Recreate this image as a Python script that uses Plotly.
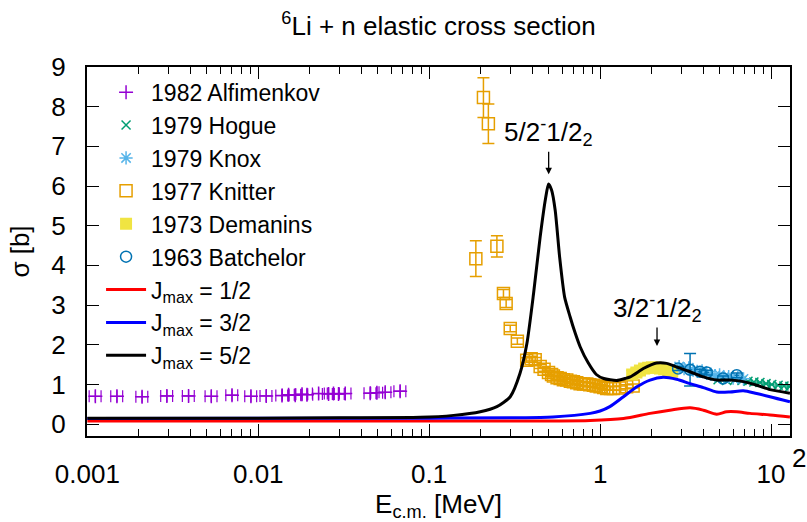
import plotly.graph_objects as go

# ---------------- data ----------------
alf_E = [0.001114, 0.00149, 0.00209, 0.00292, 0.00391, 0.00531, 0.00702, 0.00906,
         0.01113, 0.01377, 0.01504, 0.01645, 0.01803, 0.01928, 0.02254, 0.02578,
         0.02755, 0.02949, 0.03228, 0.04519, 0.04943, 0.0553, 0.0676]
alf_s = [0.70, 0.70, 0.69, 0.71, 0.71, 0.70, 0.73, 0.70, 0.71, 0.72, 0.74, 0.73,
         0.75, 0.74, 0.77, 0.76, 0.77, 0.76, 0.77, 0.78, 0.79, 0.80, 0.83]

hog_E = [4.9, 5.5, 6.15, 6.76, 7.33, 7.94, 8.61, 9.35, 10.1, 11.0, 11.9, 12.9]
hog_s = [1.12, 1.10, 1.12, 1.10, 1.08, 1.06, 1.05, 1.02, 1.00, 0.98, 0.96, 0.95]

knox_E = [2.9, 3.1, 3.3, 3.5, 3.7, 3.95, 4.2, 4.45, 4.7, 5.0, 5.3, 5.65, 6.0, 6.4, 6.9]
knox_s = [1.45, 1.40, 1.42, 1.36, 1.33, 1.34, 1.28, 1.26, 1.22, 1.24, 1.18, 1.20, 1.16, 1.17, 1.14]

kni_E = [0.1875, 0.2077, 0.222, 0.249, 0.272, 0.282, 0.298, 0.328, 0.372, 0.395,
         0.417, 0.446, 0.47, 0.499, 0.52, 0.533, 0.56, 0.584, 0.61, 0.638, 0.67,
         0.698, 0.73, 0.764, 0.80, 0.836, 0.87, 0.914, 0.95, 1.0, 1.05, 1.094,
         1.15, 1.196, 1.3, 1.43, 1.56]
kni_s = [4.17, 8.23, 7.57, 4.48, 3.29, 3.04, 2.41, 2.09, 1.61, 1.65, 1.62, 1.45,
         1.38, 1.30, 1.25, 1.21, 1.17, 1.15, 1.12, 1.11, 1.08, 1.07, 1.04, 1.02,
         1.01, 1.01, 0.99, 0.98, 0.96, 0.94, 0.92, 0.90, 0.90, 0.90, 0.91, 0.94, 0.96]
kni_err = [0.45, 0.5, 0.5, 0.27, 0.1, 0.1, 0.08, 0.08, 0.06, 0.06, 0.06, 0.05,
           0.05, 0.05, 0.05, 0.05, 0.05, 0.05, 0.05, 0.05, 0.05, 0.05, 0.05, 0.05,
           0.05, 0.05, 0.05, 0.05, 0.05, 0.05, 0.05, 0.05, 0.05, 0.05, 0.05, 0.05, 0.05]

dem_E = [1.54, 1.63, 1.71, 1.81, 1.91, 2.01, 2.12, 2.24, 2.37, 2.50, 2.64]
dem_s = [1.25, 1.30, 1.35, 1.40, 1.42, 1.43, 1.42, 1.40, 1.38, 1.35, 1.32]
dem_err = [0.1] * 11

bat_E = [2.86, 3.36, 3.84, 4.21, 5.24, 6.30]
bat_s = [1.40, 1.37, 1.32, 1.30, 1.15, 1.23]
bat_err = [0.05, 0.41, 0.06, 0.06, 0.06, 0.06]

j12_E = [0.001, 0.5, 0.875, 1.37, 1.96, 2.56, 3.36, 4.02, 4.81, 5.5, 6.3, 7.53, 9.86, 12.9]
j12_s = [0.08, 0.08, 0.09, 0.14, 0.27, 0.35, 0.41, 0.35, 0.25, 0.31, 0.31, 0.27, 0.23, 0.18]

j32_E = [0.001, 0.1, 0.3, 0.53, 0.875, 1.0, 1.14, 1.37, 1.64, 1.96, 2.34, 2.8, 3.36,
         4.02, 4.81, 5.75, 6.89, 8.24, 9.86, 12.9]
j32_s = [0.14, 0.15, 0.16, 0.18, 0.27, 0.33, 0.44, 0.69, 0.94, 1.11, 1.18, 1.13, 1.02,
         0.92, 0.81, 0.81, 0.84, 0.77, 0.69, 0.56]

j52_E = [0.001, 0.01, 0.03, 0.0885, 0.139, 0.199, 0.249, 0.298, 0.340, 0.373, 0.408,
         0.446, 0.48, 0.499, 0.52, 0.546, 0.58, 0.62, 0.668, 0.714, 0.764, 0.85,
         0.95, 1.05, 1.25, 1.40, 1.5, 1.79, 2.0, 2.14, 2.45, 2.8, 3.36, 4.02, 4.81,
         5.75, 6.89, 8.24, 9.86, 12.9]
j52_s = [0.15, 0.15, 0.16, 0.17, 0.22, 0.31, 0.44, 0.69, 1.28, 2.03, 3.29, 4.72, 5.7,
         6.05, 5.9, 5.39, 4.2, 3.2, 2.7, 2.3, 1.95, 1.55, 1.25, 1.15, 1.10, 1.15, 1.19,
         1.40, 1.50, 1.54, 1.53, 1.44, 1.32, 1.19, 1.11, 1.11, 1.07, 0.98, 0.87, 0.78]

x_tickvals = [0.001, 0.01, 0.1, 1, 10]
x_ticktext = ["0.001", "0.01", "0.1", "1", "10"]
y_tickvals = list(range(10))

# ---------------- figure ----------------
FONT = "Liberation Sans, Arial, sans-serif"
FS = 26

fig = go.Figure()

fig.add_trace(go.Scatter(
    x=alf_E, y=alf_s, mode="markers", name="1982 Alfimenkov",
    marker=dict(symbol="cross-thin", size=10, line=dict(color="#9400d3", width=1.5), color="#9400d3"),
    error_x=dict(type="percent", value=8, color="#9400d3", thickness=1.2, width=6),
    error_y=dict(type="constant", value=0.15, color="#9400d3", thickness=1.2, width=0)))

fig.add_trace(go.Scatter(
    x=hog_E, y=hog_s, mode="markers", name="1979 Hogue",
    marker=dict(symbol="x-thin", size=9, line=dict(color="#009e73", width=1.5), color="#009e73"),
    error_x=dict(type="percent", value=3, color="#009e73", thickness=1.2, width=3)))

fig.add_trace(go.Scatter(
    x=knox_E, y=knox_s, mode="markers", name="1979 Knox",
    marker=dict(symbol="asterisk-open", size=11, line=dict(color="#56b4e9", width=1.5), color="#56b4e9")))

fig.add_trace(go.Scatter(
    x=kni_E, y=kni_s, mode="markers", name="1977 Knitter",
    marker=dict(symbol="square-open", size=12, line=dict(color="#e69f00", width=1.5), color="#e69f00"),
    error_y=dict(type="data", array=kni_err, color="#e69f00", thickness=1.5, width=6)))

fig.add_trace(go.Scatter(
    x=dem_E, y=dem_s, mode="markers", name="1973 Demanins",
    marker=dict(symbol="square", size=12, color="#f0e442", line=dict(width=0)),
    error_y=dict(type="data", array=dem_err, color="#f0e442", thickness=1.5, width=6)))

fig.add_trace(go.Scatter(
    x=bat_E, y=bat_s, mode="markers", name="1963 Batchelor",
    marker=dict(symbol="circle-open", size=11, line=dict(color="#0072b2", width=1.5), color="#0072b2"),
    error_y=dict(type="data", array=bat_err, color="#0072b2", thickness=1.5, width=6),
    error_x=dict(type="percent", value=3, color="#0072b2", thickness=1.2, width=0)))

fig.add_trace(go.Scatter(
    x=j12_E, y=j12_s, mode="lines", name="J<sub>max</sub> = 1/2",
    line=dict(color="#ff0000", width=3, shape="spline", smoothing=0.8)))
fig.add_trace(go.Scatter(
    x=j32_E, y=j32_s, mode="lines", name="J<sub>max</sub> = 3/2",
    line=dict(color="#0000ff", width=3, shape="spline", smoothing=0.8)))
fig.add_trace(go.Scatter(
    x=j52_E, y=j52_s, mode="lines", name="J<sub>max</sub> = 5/2",
    line=dict(color="#000000", width=3, shape="spline", smoothing=0.6)))

minor_vals = []
for dec in [0.001, 0.01, 0.1, 1]:
    minor_vals += [dec * k for k in range(2, 10)]

fig.update_xaxes(
    type="log", range=[-3.002, 1.111], automargin=False,
    tickvals=x_tickvals, ticktext=x_ticktext,
    ticks="inside", ticklen=12, tickwidth=1.2, tickcolor="black",
    ticklabelstandoff=14,
    minor=dict(tickvals=minor_vals, ticks="inside", ticklen=7, tickwidth=1.2, tickcolor="black", showgrid=False),
    showline=True, linecolor="black", linewidth=2, mirror="ticks",
    showgrid=False, zeroline=False,
    tickfont=dict(family=FONT, size=FS, color="black"),
    title=dict(text="E<sub>c.m.</sub> [MeV]", font=dict(family=FONT, size=FS, color="black"), standoff=20))

fig.update_yaxes(
    range=[-0.3, 9], tickvals=y_tickvals, automargin=False,
    ticks="inside", ticklen=12, tickwidth=1.2, tickcolor="black",
    ticklabelstandoff=14,
    showline=True, linecolor="black", linewidth=2, mirror="ticks",
    showgrid=False, zeroline=False,
    tickfont=dict(family=FONT, size=FS, color="black"),
    title=dict(text="σ [b]", font=dict(family=FONT, size=FS, color="black"), standoff=14))

fig.add_annotation(x=-0.301, y=6.3, xref="x", yref="y", text="5/2<sup>-</sup>1/2<sub>2</sub>",
                   showarrow=True, ax=0, ay=-42, arrowhead=2, arrowsize=1, arrowwidth=1.3,
                   arrowcolor="black", font=dict(family=FONT, size=FS, color="black"))
fig.add_annotation(x=0.333, y=1.97, xref="x", yref="y", text="3/2<sup>-</sup>1/2<sub>2</sub>",
                   showarrow=True, ax=0, ay=-38, arrowhead=2, arrowsize=1, arrowwidth=1.3,
                   arrowcolor="black", font=dict(family=FONT, size=FS, color="black"))
fig.add_annotation(x=1.0, y=-0.06, xref="paper", yref="paper", xanchor="left", yanchor="middle",
                   text="2", showarrow=False, font=dict(family=FONT, size=FS, color="black"))

fig.update_layout(
    width=807, height=522,
    margin=dict(l=87, r=17, t=67, b=86),
    paper_bgcolor="white", plot_bgcolor="white",
    title=dict(text="<sup>6</sup>Li + n elastic cross section", x=0.5, xref="paper",
               y=1 - 26 / 522, yref="container", yanchor="middle",
               font=dict(family=FONT, size=FS, color="black")),
    showlegend=True,
    legend=dict(x=0.02, y=0.99, xanchor="left", yanchor="top", bgcolor="rgba(0,0,0,0)",
                font=dict(family=FONT, size=23, color="black"), tracegroupgap=0,
                itemwidth=40),
)

fig.write_html("out.html")
